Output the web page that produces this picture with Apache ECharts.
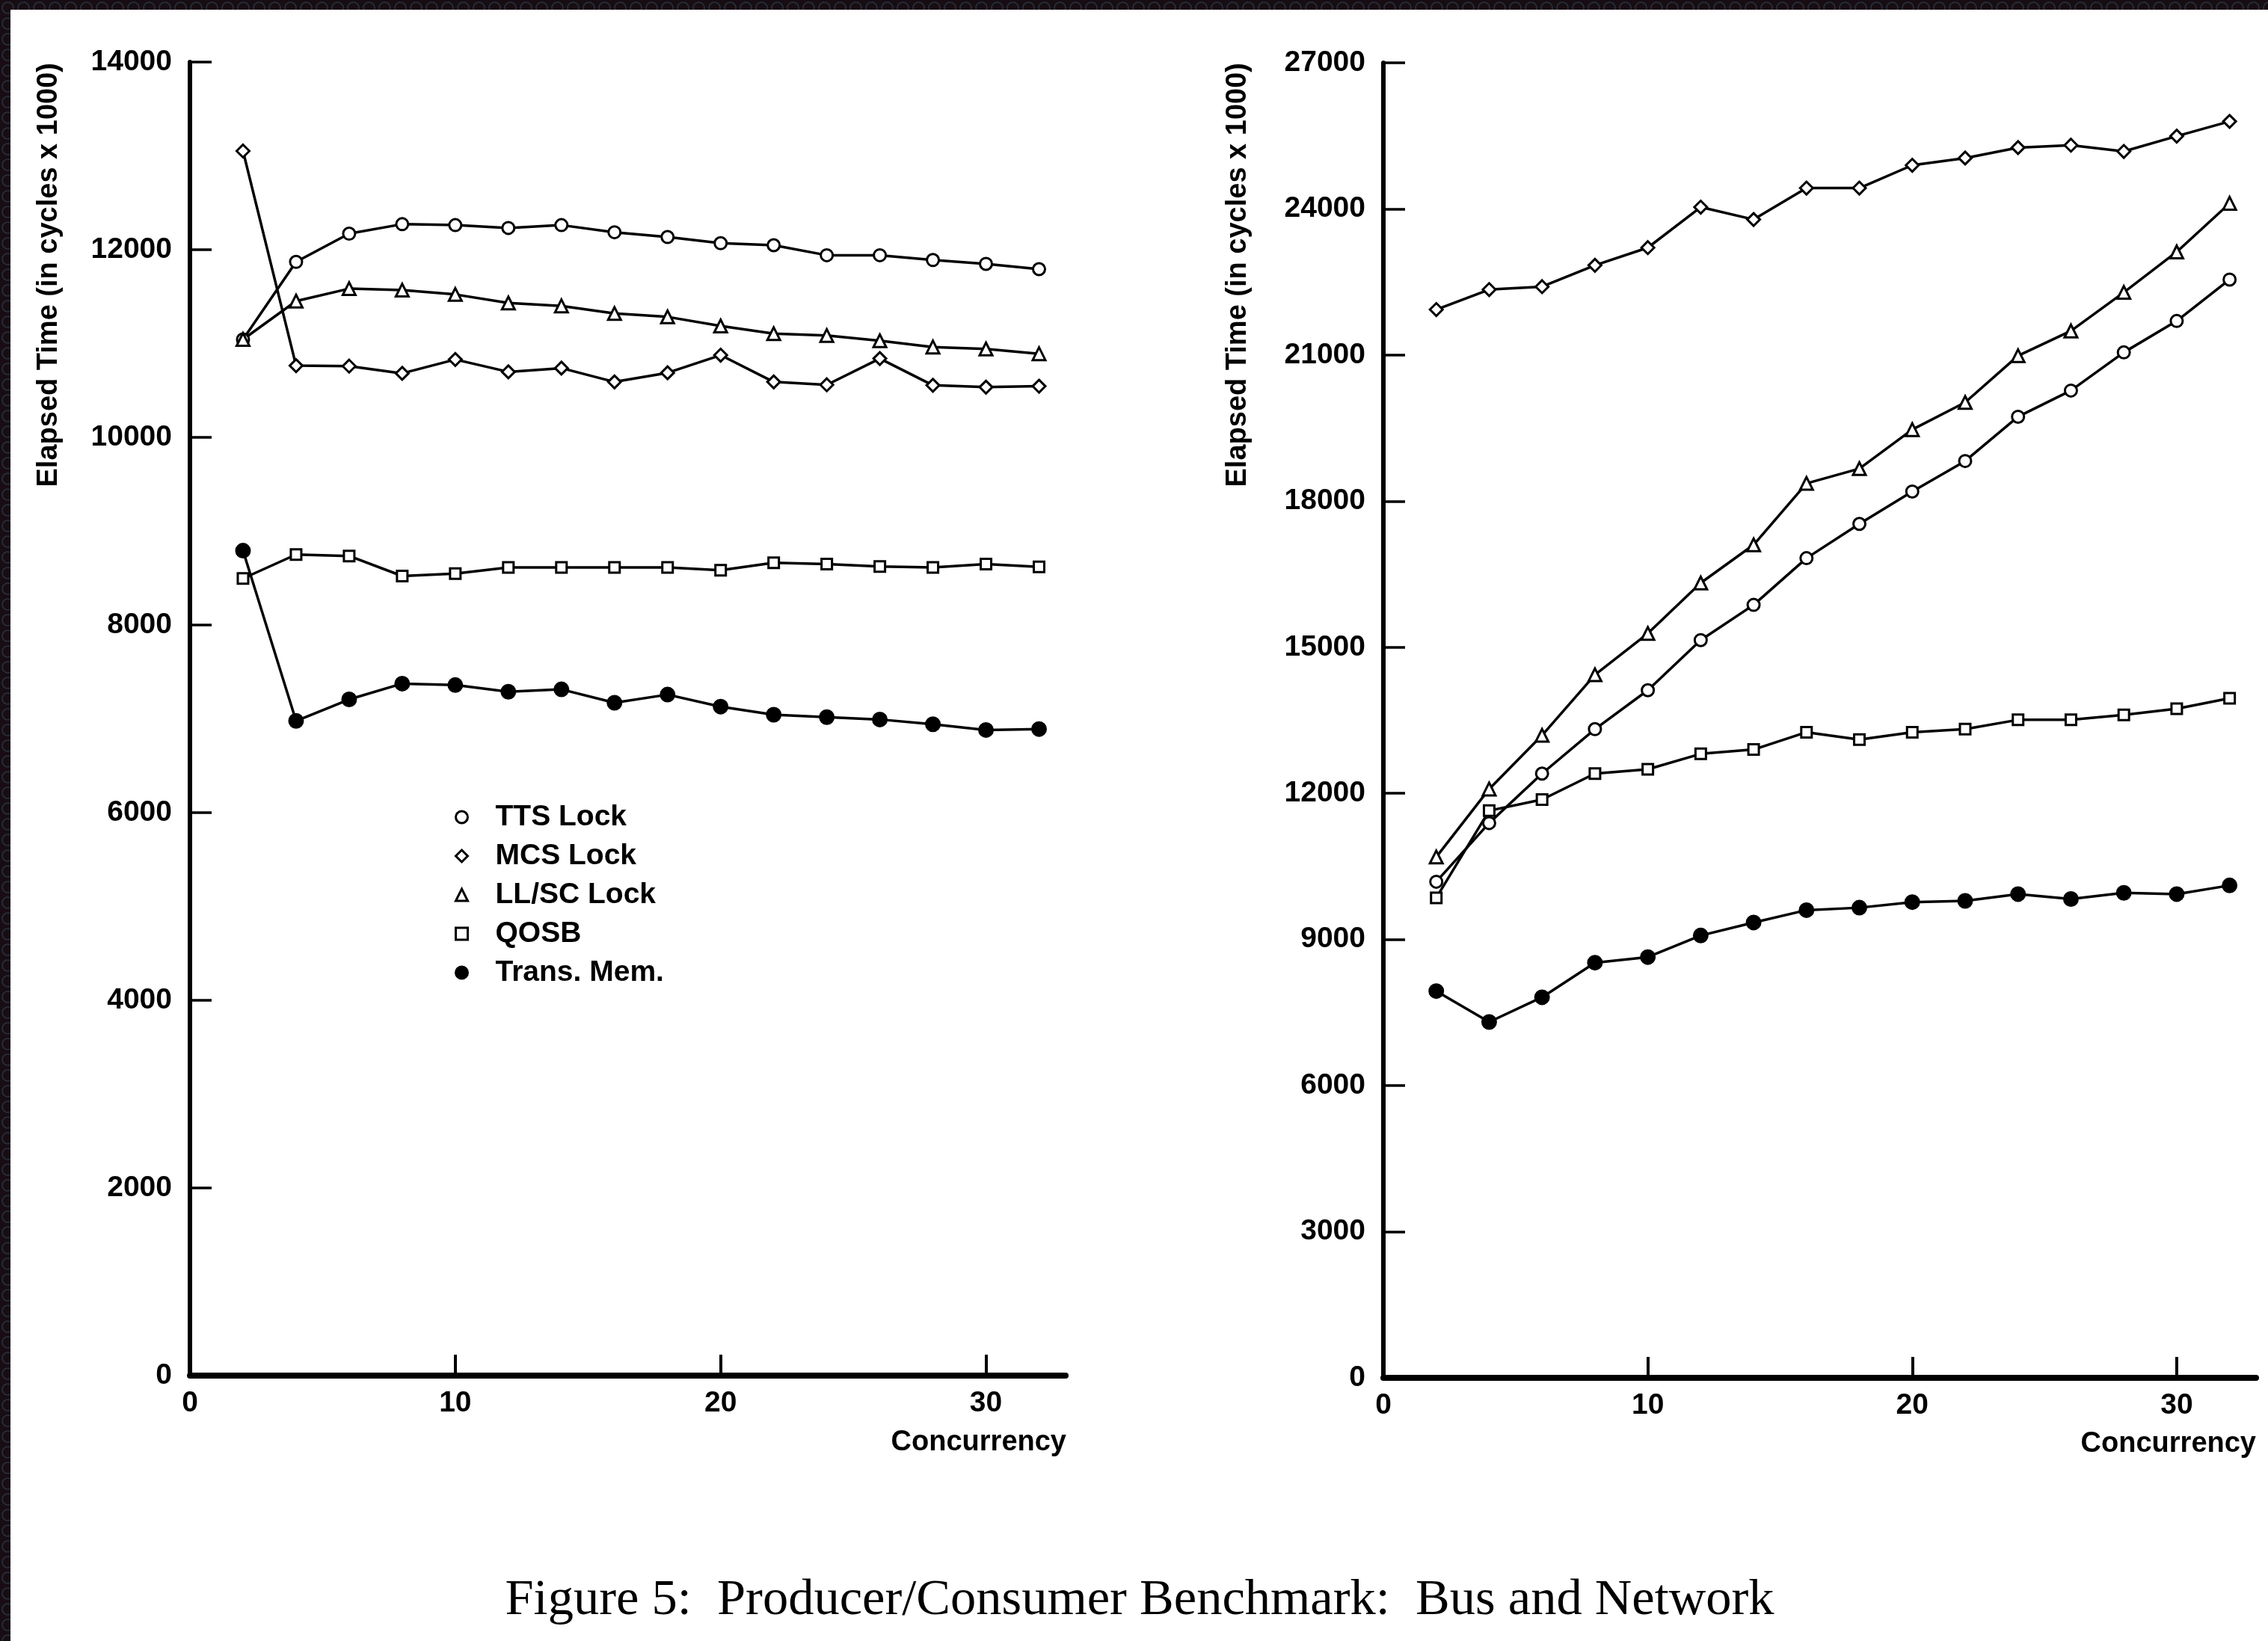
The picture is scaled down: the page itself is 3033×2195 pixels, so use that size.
<!DOCTYPE html>
<html>
<head>
<meta charset="utf-8">
<script src="https://cdn.jsdelivr.net/npm/echarts@6/dist/echarts.min.js"></script>
<style>
html,body{margin:0;padding:0;width:3033px;height:2195px;overflow:hidden;}
body{background-color:#170d13;background-image:radial-gradient(circle, rgba(0,0,0,0) 40%, #2a3541 50%, rgba(0,0,0,0) 60%);background-size:21px 21px;}
#paper{position:absolute;left:14px;top:13px;width:3019px;height:2182px;background:#fff;}
#chart{position:absolute;left:0;top:0;width:3033px;height:2195px;}
</style>
</head>
<body>
<div id="paper"></div>
<div id="chart"></div>
<script>
// ---- data ----
const concurrency = [2, 4, 6, 8, 10, 12, 14, 16, 18, 20, 22, 24, 26, 28, 30, 32];
const xTickValues = [0, 10, 20, 30];
const seriesNames = ['TTS Lock', 'MCS Lock', 'LL/SC Lock', 'QOSB', 'Trans. Mem.'];

// Bus (left panel)
const busTTS  = [11044, 11870, 12171, 12272, 12262, 12232, 12262, 12186, 12135, 12069, 12048, 11941, 11941, 11890, 11849, 11793];
const busMCS  = [13052, 10764, 10759, 10682, 10830, 10698, 10738, 10591, 10688, 10876, 10591, 10560, 10840, 10555, 10535, 10545];
const busLLSC = [11044, 11452, 11585, 11569, 11523, 11432, 11401, 11320, 11284, 11187, 11105, 11085, 11029, 10963, 10942, 10891];
const busQOSB = [8496, 8751, 8736, 8522, 8547, 8614, 8614, 8614, 8614, 8583, 8664, 8649, 8624, 8614, 8649, 8619];
const busTM   = [8792, 6978, 7207, 7375, 7360, 7289, 7314, 7171, 7258, 7130, 7044, 7018, 6993, 6942, 6881, 6891];

// Network (right panel)
const netTTS  = [10186, 11391, 12406, 13319, 14118, 15147, 15870, 16829, 17533, 18198, 18824, 19733, 20271, 21054, 21699, 22550];
const netMCS  = [21934, 22345, 22403, 22843, 23205, 24037, 23783, 24428, 24428, 24897, 25044, 25259, 25308, 25181, 25494, 25797];
const netLLSC = [10693, 12089, 13192, 14435, 15284, 16320, 17103, 18364, 18668, 19469, 20027, 20985, 21494, 22286, 23117, 24115];
const netQOSB = [9856, 11645, 11873, 12406, 12495, 12812, 12900, 13256, 13104, 13256, 13319, 13510, 13510, 13611, 13738, 13954];
const netTM   = [7941, 7307, 7814, 8524, 8639, 9082, 9349, 9603, 9653, 9767, 9793, 9932, 9831, 9958, 9932, 10110];

const yNameText = 'Elapsed Time (in cycles x 1000)';
const xNameText = 'Concurrency';
const captionText = 'Figure 5:  Producer/Consumer Benchmark:  Bus and Network';

// ---- styles ----
const FONT = '"Liberation Sans", Arial, Helvetica, sans-serif';
const symbolDefs = [
  { symbol: 'circle',   size: 16, fill: '#fff' },
  { symbol: 'diamond',  size: 17, fill: '#fff' },
  { symbol: 'triangle', size: 17, fill: '#fff' },
  { symbol: 'rect',     size: 14, fill: '#fff' },
  { symbol: 'circle',   size: 18, fill: '#000' }
];

function pairs(vals) { return concurrency.map((c, i) => [c, vals[i]]); }

const busSets = [busTTS, busMCS, busLLSC, busQOSB, busTM];
const netSets = [netTTS, netMCS, netLLSC, netQOSB, netTM];

const series = [];
[busSets, netSets].forEach((sets, panel) => {
  sets.forEach((vals, k) => {
    series.push({
      name: seriesNames[k],
      type: 'line',
      xAxisIndex: panel,
      yAxisIndex: panel,
      data: pairs(vals),
      symbol: symbolDefs[k].symbol,
      symbolSize: symbolDefs[k].size,
      showSymbol: true,
      showAllSymbol: true,
      lineStyle: { color: '#000', width: 3.5 },
      itemStyle: { color: symbolDefs[k].fill, borderColor: '#000', borderWidth: 3 },
      emphasis: { disabled: true },
      animation: false
    });
  });
});

function plainNum(v) { return String(v); }

function xAxisCfg(gridIndex) {
  return {
    type: 'value', gridIndex: gridIndex, min: 0, max: 33, interval: 10,
    axisLine: { show: true, onZero: false, lineStyle: { color: '#000', width: 8 } },
    axisTick: { show: true, inside: true, length: 28, customValues: xTickValues, lineStyle: { color: '#000', width: 4 } },
    axisLabel: { show: true, customValues: xTickValues, formatter: plainNum, margin: 18, color: '#000', fontSize: 39, fontWeight: 'bold', fontFamily: FONT },
    splitLine: { show: false }
  };
}
function yAxisCfg(gridIndex, max, interval) {
  return {
    type: 'value', gridIndex: gridIndex, min: 0, max: max, interval: interval,
    axisLine: { show: true, onZero: false, lineStyle: { color: '#000', width: 6 } },
    axisTick: { show: true, inside: true, length: 29, lineStyle: { color: '#000', width: 3.5 } },
    axisLabel: { show: true, formatter: plainNum, margin: 24, color: '#000', fontSize: 39, fontWeight: 'bold', fontFamily: FONT },
    splitLine: { show: false }
  };
}

const legendData = seriesNames.map((n, k) => ({
  name: n,
  icon: symbolDefs[k].symbol,
  itemStyle: { color: symbolDefs[k].fill, borderColor: '#000', borderWidth: 3 }
}));

const chart = echarts.init(document.getElementById('chart'), null, { renderer: 'canvas' });
chart.setOption({
  backgroundColor: 'rgba(0,0,0,0)',
  animation: false,
  grid: [
    { left: 254, top: 83, width: 1171, height: 1757, containLabel: false, outerBoundsMode: 'none' },
    { left: 1850, top: 84, width: 1167, height: 1759, containLabel: false, outerBoundsMode: 'none' }
  ],
  xAxis: [xAxisCfg(0), xAxisCfg(1)],
  yAxis: [yAxisCfg(0, 14000, 2000), yAxisCfg(1, 27000, 3000)],
  legend: {
    show: true, orient: 'vertical', left: 603, top: 1062,
    itemWidth: 16, itemHeight: 16, itemGap: 0,
    data: legendData,
    textStyle: { color: '#000', fontSize: 39, fontWeight: 'bold', fontFamily: FONT, lineHeight: 52, padding: [0, 0, 0, 32] }
  },
  graphic: [
    { type: 'text', x: 66, y: 84, rotation: Math.PI / 2,
      style: { text: yNameText, font: 'bold 38px ' + FONT, fill: '#000', align: 'right', verticalAlign: 'middle' } },
    { type: 'text', x: 1656, y: 84, rotation: Math.PI / 2,
      style: { text: yNameText, font: 'bold 38px ' + FONT, fill: '#000', align: 'right', verticalAlign: 'middle' } },
    { type: 'text', x: 1426, y: 1930,
      style: { text: xNameText, font: 'bold 38px ' + FONT, fill: '#000', align: 'right', verticalAlign: 'middle' } },
    { type: 'text', x: 3017, y: 1932,
      style: { text: xNameText, font: 'bold 38px ' + FONT, fill: '#000', align: 'right', verticalAlign: 'middle' } },
    { type: 'text', x: 1524, y: 2141,
      style: { text: captionText, font: '68.5px "Liberation Serif", "Times New Roman", serif', fill: '#000', align: 'center', verticalAlign: 'middle' } }
  ],
  series: series
});
</script>
</body>
</html>
